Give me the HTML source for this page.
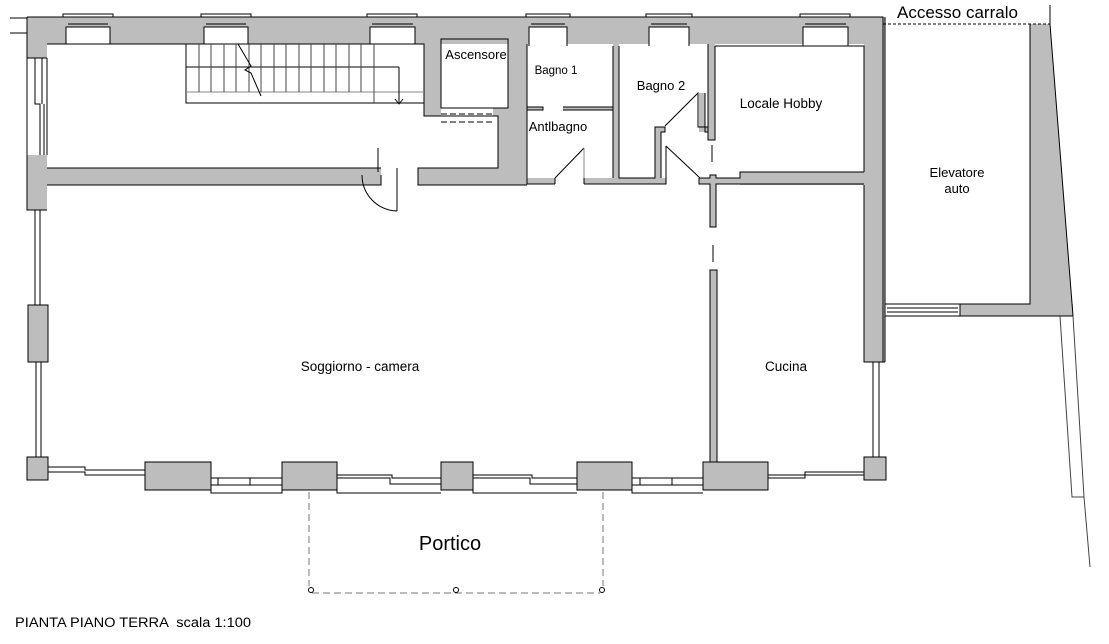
<!DOCTYPE html>
<html><head><meta charset="utf-8"><style>
html,body{margin:0;padding:0;background:#fff;}
svg{display:block;}
text{font-family:"Liberation Sans",Arial,sans-serif;fill:#000;white-space:pre;}
</style></head><body>
<svg width="1109" height="644" viewBox="0 0 1109 644" xmlns="http://www.w3.org/2000/svg">
<g fill="#bdbdbd" stroke="none">
  <rect x="27" y="17" width="858" height="27"/>
  <rect x="27" y="17" width="20" height="41"/>
  <rect x="27" y="155" width="20" height="55"/>
  <rect x="28" y="305" width="20" height="57"/>
  <rect x="27" y="457" width="21" height="23"/>
  <rect x="864" y="17" width="21" height="345"/>
  <rect x="864" y="457" width="22" height="23"/>
  <rect x="47" y="168" width="334" height="17"/>
  <rect x="418" y="168" width="109" height="17"/>
  <rect x="424" y="44" width="17" height="72"/>
  <rect x="508" y="44" width="19" height="141"/>
  <rect x="498" y="116" width="29" height="69"/>
  <rect x="493" y="108" width="34" height="8"/>
  <rect x="527" y="107" width="16" height="3"/>
  <rect x="563" y="107" width="50" height="3"/>
  <rect x="527" y="178" width="28" height="6"/>
  <rect x="584" y="178" width="82" height="6"/>
  <rect x="613" y="44" width="6" height="140"/>
  <rect x="655" y="127" width="6" height="57"/>
  <rect x="655" y="127" width="10" height="5"/>
  <rect x="708" y="44" width="7" height="96"/>
  <rect x="699" y="93" width="6" height="39"/>
  <rect x="699" y="127" width="16" height="5"/>
  <rect x="699" y="178" width="46" height="6"/>
  <rect x="710" y="175" width="6" height="52"/>
  <rect x="740" y="172" width="124" height="13"/>
  <rect x="710" y="270" width="7" height="192"/>
  <rect x="145" y="462" width="66" height="28"/>
  <rect x="282" y="462" width="55" height="28"/>
  <rect x="441" y="462" width="32" height="28"/>
  <rect x="577" y="462" width="55" height="28"/>
  <rect x="703" y="462" width="65" height="28"/>
  <rect x="960" y="304" width="113" height="12"/>
  <polygon points="1030,24 1050,24 1073,316 1030,316"/>
</g>
<g fill="#fff" stroke="none">
  <rect x="66" y="27" width="44" height="17"/>
  <rect x="204" y="27" width="44" height="17"/>
  <rect x="370" y="27" width="45" height="17"/>
  <rect x="529" y="27" width="38" height="20"/>
  <rect x="649" y="27" width="40" height="20"/>
  <rect x="803" y="27" width="45" height="20"/>
</g>
<g fill="none" stroke="#000" stroke-width="1">
  <path d="M27,17 H883 V362 M27,17 V58 H47 M47,58 V155 M27,155 V210 H47 M27,58 V155"/>
  <line x1="10" y1="18" x2="27" y2="18"/><line x1="10" y1="33" x2="27" y2="33"/>
  <path d="M63,17 V14 H113 V17 M66,44 V27 H110 V44 M68,24 H108 M68,27 H108"/>
  <path d="M201,17 V14 H251 V17 M204,44 V27 H248 V44 M206,24 H246 M206,27 H246"/>
  <path d="M367,17 V14 H417 V17 M370,44 V27 H415 V44 M372,24 H413 M372,27 H413"/>
  <path d="M526,17 V14 H570 V17 M529,46 V27 H567 V46 M531,24 H565 M531,27 H565"/>
  <path d="M646,17 V14 H692 V17 M649,46 V27 H689 V46 M651,24 H687 M651,27 H687"/>
  <path d="M800,17 V14 H850 V17 M803,46 V27 H848 V46 M805,24 H846 M805,27 H846"/>
  <path d="M35,58 V104 H40 V155 M42,58 V104 M44,104 V155 M35,210 V305 M40,210 V305 M36,362 V457 M41,362 V457"/>
  <rect x="28" y="305" width="20" height="57"/>
  <rect x="27" y="457" width="21" height="23"/>
  <path d="M47,44 H424 V116 M441,116 H498 V168 H418 V185 H527 M381,168 H47 M47,185 H381 V175"/>
  <path d="M424,44 V116 H441"/>
  <rect x="441" y="39" width="67" height="69"/>
  <line x1="441" y1="114" x2="493" y2="114" stroke-dasharray="6,3"/>
  <line x1="441" y1="122" x2="493" y2="122" stroke-dasharray="6,3"/>
  <line x1="378" y1="148" x2="378" y2="172"/>
  <path d="M397,168 V211 M362,175 A36,36 0 0 0 397,211"/>
  <rect x="186" y="44" width="238" height="59"/>
  <line x1="186" y1="67" x2="399" y2="67"/>
  <line x1="186" y1="92" x2="424" y2="92" stroke="#888"/>
  <g stroke="#444">
  <path d="M199,44V92 M211,44V92 M224,44V92 M236,44V92 M249,44V92 M261,44V92 M274,44V92 M286,44V92 M299,44V92 M311,44V92 M324,44V92 M336,44V92 M349,44V92 M361,44V92 M374,44V103"/>
  </g>
  <path d="M399,67 V104 M395,99 L399,104 L403,99"/>
  <path d="M238,44 L251,66 L245,70 L251,73 L261,96"/>
  <path d="M527,44 V184 H555 M527,107 H543 V110 H527 M563,107 H613 M563,110 H613"/>
  <path d="M613,46 V178 M619,46 V178 H655 V127 H665 V132 H661 V178 M584,184 H666 V178 M584,178 V184 M555,184 V178"/>
  <line x1="555" y1="178" x2="584" y2="148"/>
  <line x1="584" y1="148" x2="584" y2="178" stroke="#888"/>
  <path d="M665,126 L698,93 V127 H708 V132 H705 V93 M708,44 V140 H715 V46"/>
  <line x1="712" y1="145" x2="712" y2="162"/>
  <path d="M666,146 L700,178 M666,146 V178"/>
  <path d="M699,178 H710 V175 H716 V178 H740 V172 H864 M699,178 V184 H710 V227 H716 V184 H864 M715,46 H864 V172"/>
  <line x1="713" y1="245" x2="713" y2="262"/>
  <rect x="710" y="270" width="7" height="192"/>
  <path d="M864,185 V362 H885 M885,17 V362"/>
  <path d="M873,362 V457 M879,362 V457"/>
  <rect x="864" y="457" width="22" height="23"/>
  <path d="M48,467 H85 V470 H145 M48,472 H85 V475 H145"/>
  <rect x="145" y="462" width="66" height="28"/>
  <path d="M211,478 H282 M211,485 H282 M218,478V485 M250,478V485 M211,490 V493 H282 V490"/>
  <rect x="282" y="462" width="55" height="28"/>
  <path d="M337,475 H392 V478 H441 M337,478 H390 V484 H441 M337,490 V493 H441"/>
  <rect x="441" y="462" width="32" height="28"/>
  <path d="M473,475 H532 V478 H577 M473,478 H530 V484 H577 M473,490 V493 H577"/>
  <rect x="577" y="462" width="55" height="28"/>
  <path d="M632,478 H703 M632,485 H703 M640,478V485 M672,478V485 M632,490 V493 H703"/>
  <rect x="703" y="462" width="65" height="28"/>
  <path d="M768,475 H805 V472 H864 M768,478 H805 V475 H864"/>
  <path d="M883,24 H1050" stroke-dasharray="3,2"/>
  <line x1="1050" y1="5" x2="1050" y2="24"/>
  <path d="M1030,24 V304 H960 V316 M885,304 H960 M885,316 H1073 L1050,24 M887,308 H958 M887,312 H958"/>
  <path d="M1060,316 L1072,497 H1084 L1073,316 M1084,497 L1090,567" stroke="#444"/>
  <g stroke="#777" stroke-dasharray="7,4">
  <line x1="309" y1="492" x2="309" y2="586"/>
  <line x1="603" y1="492" x2="603" y2="586"/>
  <line x1="312" y1="593" x2="600" y2="593"/>
  </g>
  <circle cx="311" cy="590" r="2.5"/><circle cx="456" cy="590" r="2.5"/><circle cx="602" cy="590" r="2.5"/>
</g>
<text x="897" y="18" font-size="17">Accesso carralo</text>
<text x="476" y="59" font-size="13" text-anchor="middle">Ascensore</text>
<text x="556" y="74" font-size="11.5" text-anchor="middle">Bagno 1</text>
<text x="661" y="90" font-size="13" text-anchor="middle">Bagno 2</text>
<text x="558" y="131" font-size="13" text-anchor="middle">Antlbagno</text>
<text x="781" y="108" font-size="13.5" text-anchor="middle">Locale Hobby</text>
<text x="957" y="177" font-size="13" text-anchor="middle">Elevatore</text>
<text x="957" y="193" font-size="13" text-anchor="middle">auto</text>
<text x="360" y="371" font-size="13.5" text-anchor="middle">Soggiorno - camera</text>
<text x="786" y="371" font-size="13.5" text-anchor="middle">Cucina</text>
<text x="450" y="550" font-size="20" text-anchor="middle">Portico</text>
<text x="15" y="627" font-size="13.5" textLength="236" lengthAdjust="spacingAndGlyphs">PIANTA PIANO TERRA  scala 1:100</text>
</svg>
</body></html>
